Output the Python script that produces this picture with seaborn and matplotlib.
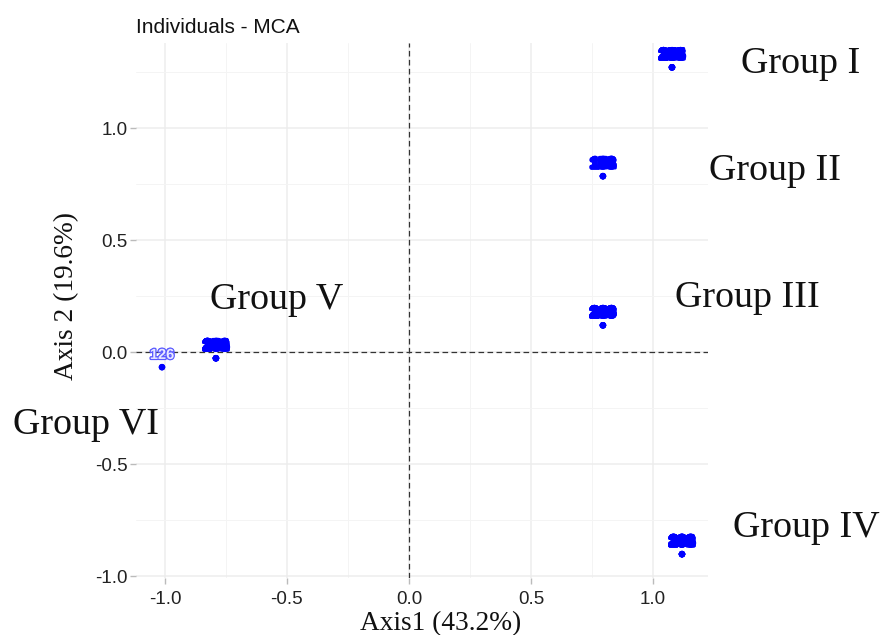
import pandas as pd
import seaborn as sns
import matplotlib.pyplot as plt
import matplotlib.patheffects as pe
from matplotlib.ticker import MultipleLocator

# MCA coordinates of the six groups (all individuals of a group share one profile)
groups = ["Group I", "Group II", "Group III", "Group IV", "Group V", "Group VI"]
dim1 = [1.078, 0.795, 0.795, 1.119, -0.791, -1.012]
dim2 = [1.272, 0.786, 0.120, -0.902, -0.027, -0.067]

# individual ids in each group
ids_g1 = ["213", "238", "245", "256", "261", "274"]
ids_g2 = ["158", "118", "163", "171"]
ids_g3 = ["208", "209", "226", "233", "248"]
ids_g4 = ["284", "288", "291", "296", "299", "302"]
ids_g5 = ["241", "244", "259", "266", "270", "281"]
ids_g6 = ["120", "126"]
group_ids = [ids_g1, ids_g2, ids_g3, ids_g4, ids_g5, ids_g6]

# where the big group names sit
label_x = [1.607, 1.500, 1.389, 1.627, -0.541, -1.324]
label_y = [1.246, 0.768, 0.201, -0.826, 0.192, -0.366]

rows = []
for g, x, y, ids in zip(groups, dim1, dim2, group_ids):
    for i in ids:
        rows.append({"group": g, "id": i, "dim1": x, "dim2": y})
ind = pd.DataFrame(rows)

sns.set_style("white")
plt.rcParams["font.family"] = ["Liberation Sans", "DejaVu Sans"]
plt.rcParams["axes.unicode_minus"] = False

fig = plt.figure(figsize=(8.82, 6.35), dpi=100)
ax = fig.add_axes([0.1542, 0.0890, 0.6485, 0.8433])

sns.scatterplot(data=ind, x="dim1", y="dim2", color="#0000FF", s=22,
                edgecolor="none", ax=ax, legend=False, zorder=4)

for _, r in ind.iterrows():
    small = len(ind[ind["group"] == r["group"]]) < 3
    if small:
        fx = [pe.withStroke(linewidth=1.6, foreground="#5a5aff")]
        col, fs = "#e8e8ff", 10.5
    else:
        fx = [pe.withStroke(linewidth=2.2, foreground="#0000FF")]
        col, fs = "#0000FF", 11
    ax.annotate(r["id"], (r["dim1"], r["dim2"]), xytext=(0, 8.8),
                textcoords="offset points", ha="center", va="center",
                color=col, fontsize=fs, fontweight="bold",
                path_effects=fx, zorder=5)

ax.margins(0.05)

ax.axhline(0, color="#333333", lw=0.9, ls=(0, (4.5, 2.7)), zorder=3)
ax.axvline(0, color="#333333", lw=0.9, ls=(0, (4.5, 2.7)), zorder=3)

ax.xaxis.set_major_locator(MultipleLocator(0.5))
ax.yaxis.set_major_locator(MultipleLocator(0.5))
ax.xaxis.set_minor_locator(MultipleLocator(0.25))
ax.yaxis.set_minor_locator(MultipleLocator(0.25))
ax.grid(which="major", color="#ededed", lw=1.1)
ax.grid(which="minor", color="#f4f4f4", lw=0.7)
ax.set_axisbelow(True)
for s in ax.spines.values():
    s.set_visible(False)

ax.tick_params(which="major", length=4, width=1, color="#bbbbbb",
               labelsize=13.5, labelcolor="#222222", left=True, bottom=True)
ax.tick_params(axis="y", pad=2)
ax.tick_params(axis="x", pad=5)
ax.tick_params(which="minor", length=0)

ax.set_xlabel("Axis1 (43.2%)", family="Liberation Serif", fontsize=19.7, color="#111111")
ax.set_ylabel("Axis 2 (19.6%)", family="Liberation Serif", fontsize=19.7, color="#111111")
ax.xaxis.label.set_va("center")
ax.yaxis.label.set_va("center")
ax.xaxis.set_label_coords(0.533, -0.085)
ax.yaxis.set_label_coords(-0.1206, 0.5275)

ax.text(0.0, 1.0187, "Individuals - MCA", transform=ax.transAxes,
        fontsize=15, color="#111111", va="baseline", ha="left")

for name, x, y in zip(groups, label_x, label_y):
    ax.text(x, y, name, family="Liberation Serif", fontsize=27.4,
            color="#111111", ha="center", va="baseline", clip_on=False, zorder=6)

fig.savefig("out.png", dpi=100)
